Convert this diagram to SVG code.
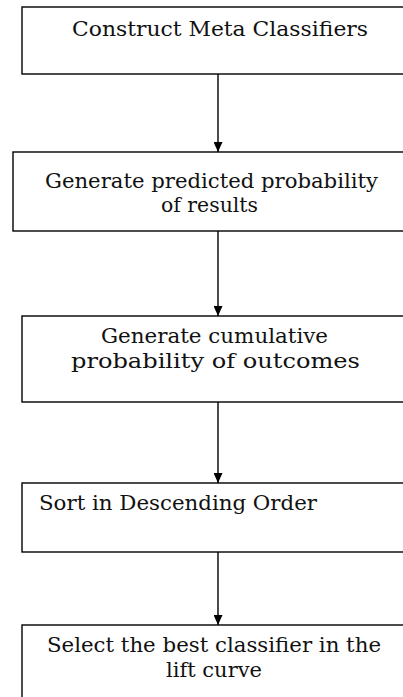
<svg xmlns="http://www.w3.org/2000/svg" width="403" height="697" viewBox="0 0 403 697">
<style>
.box{fill:#fff;stroke:#000;stroke-width:1.4}
.lbl{font-family:"DejaVu Serif","Liberation Serif",serif;font-size:21px;fill:#111}
.edge{stroke:#000;stroke-width:1.4;fill:none}
</style>
<defs>
<marker id="ah" viewBox="0 0 10 9" refX="10" refY="4.5" markerWidth="10" markerHeight="9" markerUnits="userSpaceOnUse" orient="auto">
<path d="M0,0 L10,4.5 L0,9 Z" fill="#000"/>
</marker>
</defs>
<rect width="403" height="697" fill="#fff"/>
<g id="connectors">
<line class="edge" x1="218" y1="74" x2="218" y2="152" marker-end="url(#ah)"/>
<line class="edge" x1="218" y1="231" x2="218" y2="316" marker-end="url(#ah)"/>
<line class="edge" x1="218" y1="402" x2="218" y2="483" marker-end="url(#ah)"/>
<line class="edge" x1="218" y1="552" x2="218" y2="625" marker-end="url(#ah)"/>
</g>
<g id="n1">
<rect class="box" x="22" y="7" width="390" height="67"/>
<text class="lbl" x="72" y="36" textLength="296" lengthAdjust="spacingAndGlyphs">Construct Meta Classifiers</text>
</g>
<g id="n2">
<rect class="box" x="13" y="152" width="399" height="79"/>
<text class="lbl" x="45" y="188" textLength="333" lengthAdjust="spacingAndGlyphs">Generate predicted probability</text>
<text class="lbl" x="161" y="212" textLength="97" lengthAdjust="spacingAndGlyphs">of results</text>
</g>
<g id="n3">
<rect class="box" x="22" y="316" width="390" height="86"/>
<text class="lbl" x="101" y="343" textLength="227" lengthAdjust="spacingAndGlyphs">Generate cumulative</text>
<text class="lbl" x="71" y="368" textLength="289" lengthAdjust="spacingAndGlyphs">probability of outcomes</text>
</g>
<g id="n4">
<rect class="box" x="22" y="483" width="390" height="69"/>
<text class="lbl" x="39" y="510" textLength="278" lengthAdjust="spacingAndGlyphs">Sort in Descending Order</text>
</g>
<g id="n5">
<rect class="box" x="22" y="625" width="390" height="80"/>
<text class="lbl" x="47" y="652" textLength="334" lengthAdjust="spacingAndGlyphs">Select the best classifier in the</text>
<text class="lbl" x="166" y="677" textLength="96" lengthAdjust="spacingAndGlyphs">lift curve</text>
</g>
</svg>
